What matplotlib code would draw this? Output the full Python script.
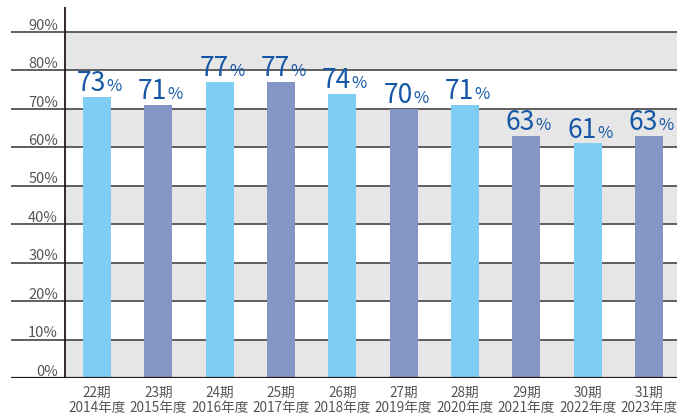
import numpy as np
import matplotlib
matplotlib.use("Agg")
import matplotlib.pyplot as plt

plt.rcParams['font.family'] = ['Noto Sans CJK JP', 'DejaVu Sans']

# data
periods = ["22期", "23期", "24期", "25期", "26期", "27期", "28期", "29期", "30期", "31期"]
years = ["2014年度", "2015年度", "2016年度", "2017年度", "2018年度",
         "2019年度", "2020年度", "2021年度", "2022年度", "2023年度"]
values = [73, 71, 77, 77, 74, 70, 71, 63, 61, 63]
yticks = [0, 10, 20, 30, 40, 50, 60, 70, 80, 90]

light = "#7fcdf2"
dark = "#8496c6"
label_blue = "#1557a6"
text_grey = "#555555"

W, H = 677, 414
fig = plt.figure(figsize=(W / 100, H / 100), dpi=100)
ax = fig.add_axes([11 / W, (H - 379) / H, 1 - 11 / W, (379 - 8) / H])

x = np.arange(len(values))
step = 61.33
x_axis = (65 - 97) / step          # position of the y axis line
x_left = (11 - 97) / step
x_right = (677 - 97) / step
ax.set_xlim(x_left, x_right)
ax.set_ylim(0, 96.5)
ax.axis("off")

# alternating bands
for lo in yticks[::2]:
    ax.fill_between([x_axis, x_right], lo, lo + 10, color="#e6e6e6", lw=0, zorder=0)

# gridlines
for t in yticks[1:]:
    ax.plot([x_left, x_right], [t, t], color="#5f5f5f", lw=1.4, zorder=1,
            solid_capstyle="butt")
ax.plot([x_left, x_right], [0, 0], color="#231815", lw=1.6, zorder=3)
ax.plot([x_axis, x_axis], [0, 96.5], color="#231815", lw=1.3, zorder=3)

# y labels sit just above their gridlines
for t in yticks:
    ax.text((58 - 97) / step, t + 1.9, f"{t}%", ha="right", va="center",
            fontsize=10.5, color=text_grey)

colors = [light if i % 2 == 0 else dark for i in range(len(values))]
ax.bar(x, values, width=28 / step, color=colors, zorder=2)

for xi, v in zip(x, values):
    ax.annotate(str(v), (xi, v), xytext=(6.5, 5), textcoords="offset points",
                ha="right", va="baseline", fontsize=19, color=label_blue)
    ax.annotate("%", (xi, v), xytext=(6.8, 5), textcoords="offset points",
                ha="left", va="baseline", fontsize=12, color=label_blue)

for xi, p, yr in zip(x, periods, years):
    ax.text(xi, -3.6, p, ha="center", va="center", fontsize=9.8,
            color=text_grey, clip_on=False)
    ax.text(xi, -7.6, yr, ha="center", va="center", fontsize=9.8,
            color=text_grey, clip_on=False)

fig.savefig("out.png", dpi=100)
